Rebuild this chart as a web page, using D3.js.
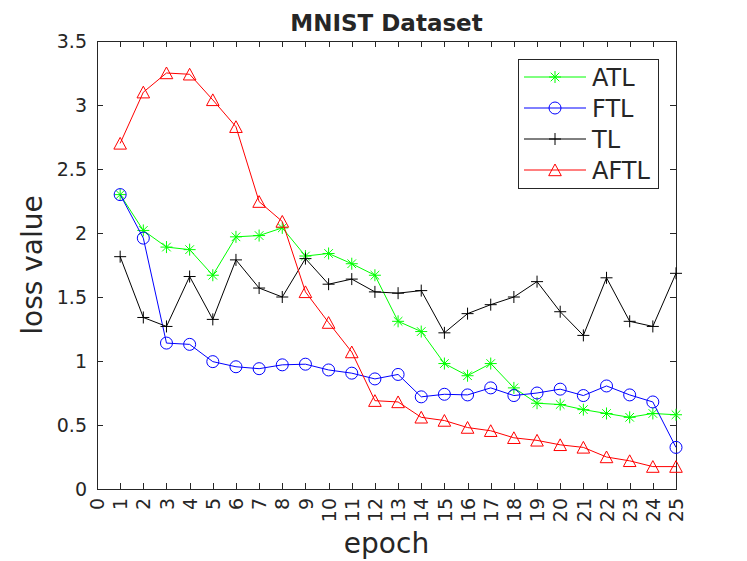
<!DOCTYPE html>
<html>
<head>
<meta charset="utf-8">
<script src="https://cdn.jsdelivr.net/npm/d3@7"></script>
<style>
  html, body { margin: 0; padding: 0; background: #fff; }
  #chart { width: 747px; height: 561px; }
  text { font-family: "DejaVu Sans", sans-serif; fill: #262626; }
  .axis path, .axis line { stroke: #262626; stroke-width: 1; shape-rendering: crispEdges; }
</style>
</head>
<body>
<div id="chart"></div>
<script>
'use strict';

const MARGIN = { top: 41, right: 71, bottom: 72, left: 97 };

// epochs on x, loss values
const EPOCHS = [1, 2, 3, 4, 5, 6, 7, 8, 9, 10, 11, 12, 13, 14, 15, 16, 17, 18, 19, 20, 21, 22, 23, 24, 25];
const X_TICKS = [0, 1, 2, 3, 4, 5, 6, 7, 8, 9, 10, 11, 12, 13, 14, 15, 16, 17, 18, 19, 20, 21, 22, 23, 24, 25];
const Y_TICKS = [0, 0.5, 1, 1.5, 2, 2.5, 3, 3.5];

const ATL  = [2.30, 2.02, 1.89, 1.87, 1.67, 1.97, 1.98, 2.04, 1.82, 1.84, 1.76, 1.67, 1.31, 1.23, 0.98, 0.885, 0.98, 0.79, 0.67, 0.66, 0.62, 0.59, 0.56, 0.59, 0.58];
const FTL  = [2.30, 1.96, 1.14, 1.13, 0.995, 0.955, 0.94, 0.97, 0.975, 0.93, 0.905, 0.86, 0.895, 0.72, 0.74, 0.735, 0.79, 0.73, 0.75, 0.78, 0.73, 0.805, 0.735, 0.68, 0.325];
const TL   = [1.815, 1.34, 1.27, 1.66, 1.325, 1.79, 1.57, 1.50, 1.80, 1.60, 1.64, 1.54, 1.53, 1.55, 1.22, 1.37, 1.44, 1.50, 1.62, 1.385, 1.20, 1.65, 1.31, 1.27, 1.685];
const AFTL = [2.70, 3.10, 3.25, 3.24, 3.04, 2.83, 2.245, 2.09, 1.54, 1.30, 1.07, 0.69, 0.68, 0.56, 0.535, 0.48, 0.455, 0.40, 0.38, 0.345, 0.325, 0.25, 0.22, 0.175, 0.175];

const SERIES = [
  { name: 'ATL',  values: ATL,  color: '#00ff00', marker: 'asterisk' },
  { name: 'FTL',  values: FTL,  color: '#0000ff', marker: 'circle' },
  { name: 'TL',   values: TL,   color: '#000000', marker: 'plus' },
  { name: 'AFTL', values: AFTL, color: '#ff0000', marker: 'triangle' },
];

function drawMarker(sel, type, color) {
  if (type === 'circle') {
    sel.append('circle').attr('r', 6).attr('fill', 'none').attr('stroke', color);
  } else if (type === 'plus') {
    sel.append('path').attr('d', 'M-6,0H6M0,-6V6').attr('stroke', color).attr('fill', 'none');
  } else if (type === 'asterisk') {
    sel.append('path')
      .attr('d', 'M-6,0H6M0,-6V6M-4.3,-4.3L4.3,4.3M-4.3,4.3L4.3,-4.3')
      .attr('stroke', color).attr('fill', 'none');
  } else if (type === 'triangle') {
    sel.append('path').attr('d', 'M0,-6L6.3,5.7L-6.3,5.7Z').attr('stroke', color).attr('fill', 'none');
  }
}

function drawChart() {
  const W = 747, H = 561;
  const w = W - MARGIN.left - MARGIN.right;
  const h = H - MARGIN.top - MARGIN.bottom;

  const svg = d3.select('#chart').append('svg').attr('width', W).attr('height', H);
  const g = svg.append('g').attr('transform', `translate(${MARGIN.left},${MARGIN.top})`);

  const x = d3.scaleLinear().domain([0, 25]).range([0, w]);
  const y = d3.scaleLinear().domain([0, 3.5]).range([h, 0]);

  // Axes (box with inward ticks)
  const xb = g.append('g').attr('class', 'axis').attr('transform', `translate(0,${h})`)
    .call(d3.axisBottom(x).tickValues(X_TICKS).tickSizeInner(-6).tickSizeOuter(0).tickFormat(d3.format('d')));
  xb.selectAll('text')
    .attr('transform', 'rotate(-90)')
    .attr('x', -9).attr('y', 0).attr('dy', '0.35em')
    .attr('text-anchor', 'end')
    .attr('font-size', '19px');

  g.append('g').attr('class', 'axis')
    .call(d3.axisTop(x).tickValues(X_TICKS).tickSizeInner(-6).tickSizeOuter(0).tickFormat(''));

  g.append('g').attr('class', 'axis')
    .call(d3.axisLeft(y).tickValues(Y_TICKS).tickSizeInner(-6).tickSizeOuter(0).tickPadding(10).tickFormat(d => String(d)))
    .selectAll('text').attr('font-size', '19px');

  g.append('g').attr('class', 'axis').attr('transform', `translate(${w},0)`)
    .call(d3.axisRight(y).tickValues(Y_TICKS).tickSizeInner(-6).tickSizeOuter(0).tickFormat(''));

  svg.selectAll('.axis text').attr('fill', '#262626').style('font-family', '"DejaVu Sans", sans-serif');

  // Series
  const line = d3.line().x((d, i) => x(EPOCHS[i])).y(d => y(d));
  SERIES.forEach(s => {
    g.append('path')
      .datum(s.values)
      .attr('d', line)
      .attr('fill', 'none')
      .attr('stroke', s.color)
      .attr('stroke-width', 1);
    g.append('g').selectAll('g')
      .data(s.values)
      .join('g')
      .attr('transform', (d, i) => `translate(${x(EPOCHS[i])},${y(d)})`)
      .each(function () { drawMarker(d3.select(this), s.marker, s.color); });
  });

  // Title and labels
  svg.append('text')
    .attr('x', MARGIN.left + w / 2).attr('y', 31)
    .attr('text-anchor', 'middle')
    .attr('font-size', '23px').attr('font-weight', 'bold')
    .attr('fill', '#000')
    .text('MNIST Dataset');

  svg.append('text')
    .attr('x', MARGIN.left + w / 2).attr('y', 553)
    .attr('text-anchor', 'middle')
    .attr('font-size', '28px')
    .text('epoch');

  svg.append('text')
    .attr('transform', 'rotate(-90)')
    .attr('x', -(MARGIN.top + h / 2)).attr('y', 42)
    .attr('text-anchor', 'middle')
    .attr('font-size', '28px')
    .text('loss value');

  // Legend
  const legend = svg.append('g').attr('transform', 'translate(518,59)');
  legend.append('rect')
    .attr('width', 140).attr('height', 129)
    .attr('fill', '#fff').attr('stroke', '#262626').attr('stroke-width', 1)
    .attr('shape-rendering', 'crispEdges');
  SERIES.forEach((s, i) => {
    const row = legend.append('g').attr('transform', `translate(0,${18 + i * 31})`);
    row.append('line').attr('x1', 6).attr('x2', 68).attr('stroke', s.color).attr('stroke-width', 1);
    drawMarker(row.append('g').attr('transform', 'translate(37,0)'), s.marker, s.color);
    row.append('text')
      .attr('x', 74).attr('y', 0).attr('dy', '0.36em')
      .attr('font-size', '24px')
      .text(s.name);
  });
}

drawChart();
</script>
</body>
</html>
